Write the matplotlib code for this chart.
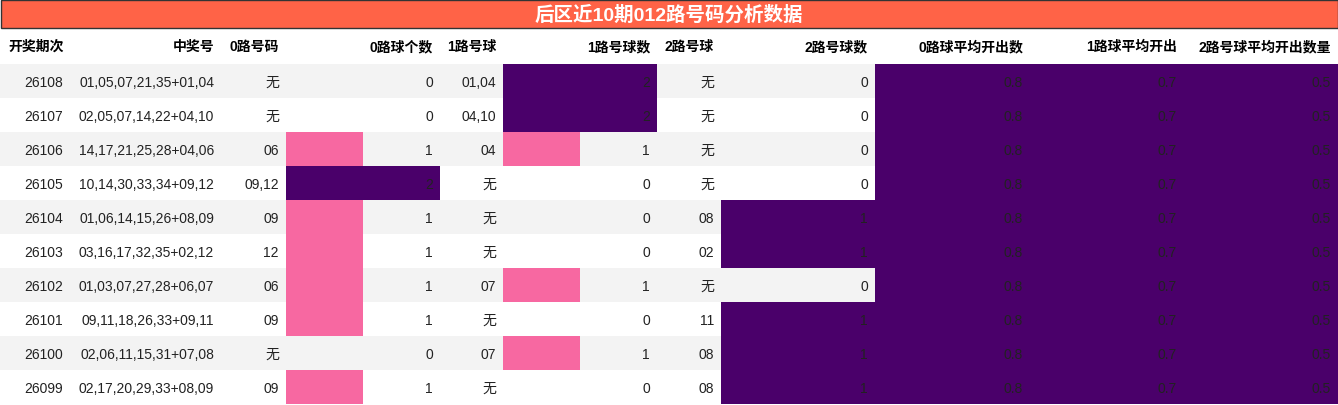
import matplotlib
matplotlib.use("Agg")
import matplotlib.pyplot as plt
from matplotlib.patches import Rectangle

title = "后区近10期012路号码分析数据"
headers = ["开奖期次","中奖号","0路号码","0路球个数","1路号球","1路号球数","2路号球","2路号球数","0路球平均开出数","1路球平均开出","2路号球平均开出数量"]
periods = ["26108","26107","26106","26105","26104","26103","26102","26101","26100","26099"]
numbers = ["01,05,07,21,35+01,04","02,05,07,14,22+04,10","14,17,21,25,28+04,06","10,14,30,33,34+09,12",
           "01,06,14,15,26+08,09","03,16,17,32,35+02,12","01,03,07,27,28+06,07","09,11,18,26,33+09,11",
           "02,06,11,15,31+07,08","02,17,20,29,33+08,09"]
r0_balls = ["无","无","06","09,12","09","12","06","09","无","09"]
r0_count = [0,0,1,2,1,1,1,1,0,1]
r1_balls = ["01,04","04,10","04","无","无","无","07","无","07","无"]
r1_count = [2,2,1,0,0,0,1,0,1,0]
r2_balls = ["无","无","无","无","08","02","无","11","08","08"]
r2_count = [0,0,0,0,1,1,0,1,1,1]
avg0 = [0.8]*10
avg1 = [0.7]*10
avg2 = [0.5]*10

W, H = 1338, 406
fig = plt.figure(figsize=(W/100, H/100), dpi=100)
ax = fig.add_axes([0,0,1,1])
ax.set_xlim(0, W); ax.set_ylim(H, 0); ax.axis("off")
fam = ["Liberation Sans", "Noto Sans CJK SC", "DejaVu Sans"]
DARK = "#4a006a"; PINK = "#f768a1"

ax.add_patch(Rectangle((0.5,0.5), W-1, 28, facecolor="#ff6347", edgecolor="#333333", lw=1))
ax.text(W/2, 15, title, ha="center", va="center", color="white", fontsize=14, fontweight="bold", family=fam)

edges = [0,70,221,286,440,503,657,721,875,1030,1184,1338]
hy = 47
for i, h in enumerate(headers):
    if i == 0:
        ax.text(8, hy, h, ha="left", va="center", fontsize=10, fontweight="bold", family=fam)
    else:
        ax.text(edges[i+1]-7, hy, h, ha="right", va="center", fontsize=10, fontweight="bold", family=fam)

top, rh = 65, 34
cols = [periods, numbers, r0_balls, r0_count, r1_balls, r1_count, r2_balls, r2_count, avg0, avg1, avg2]
bar_cols = {3: r0_count, 5: r1_count, 7: r2_count, 8: avg0, 9: avg1, 10: avg2}
for r in range(len(periods)):
    y = top + r*rh
    ax.add_patch(Rectangle((0, y), W, rh, facecolor="#f3f3f3" if r % 2 == 0 else "white", edgecolor="none"))
    for c, vals in bar_cols.items():
        mx = max(vals); v = vals[r]
        if v > 0:
            wdt = (edges[c+1]-edges[c]) * v / mx
            ax.barh(y + rh/2, wdt, height=rh, left=edges[c], color=DARK if v == mx else PINK, zorder=2)
    for c, vals in enumerate(cols):
        ax.text(edges[c+1]-7, y + rh/2 + 1, str(vals[r]), ha="right", va="center", fontsize=10,
                color="#222222", family=fam, zorder=3)

fig.savefig("out.png", dpi=100)
